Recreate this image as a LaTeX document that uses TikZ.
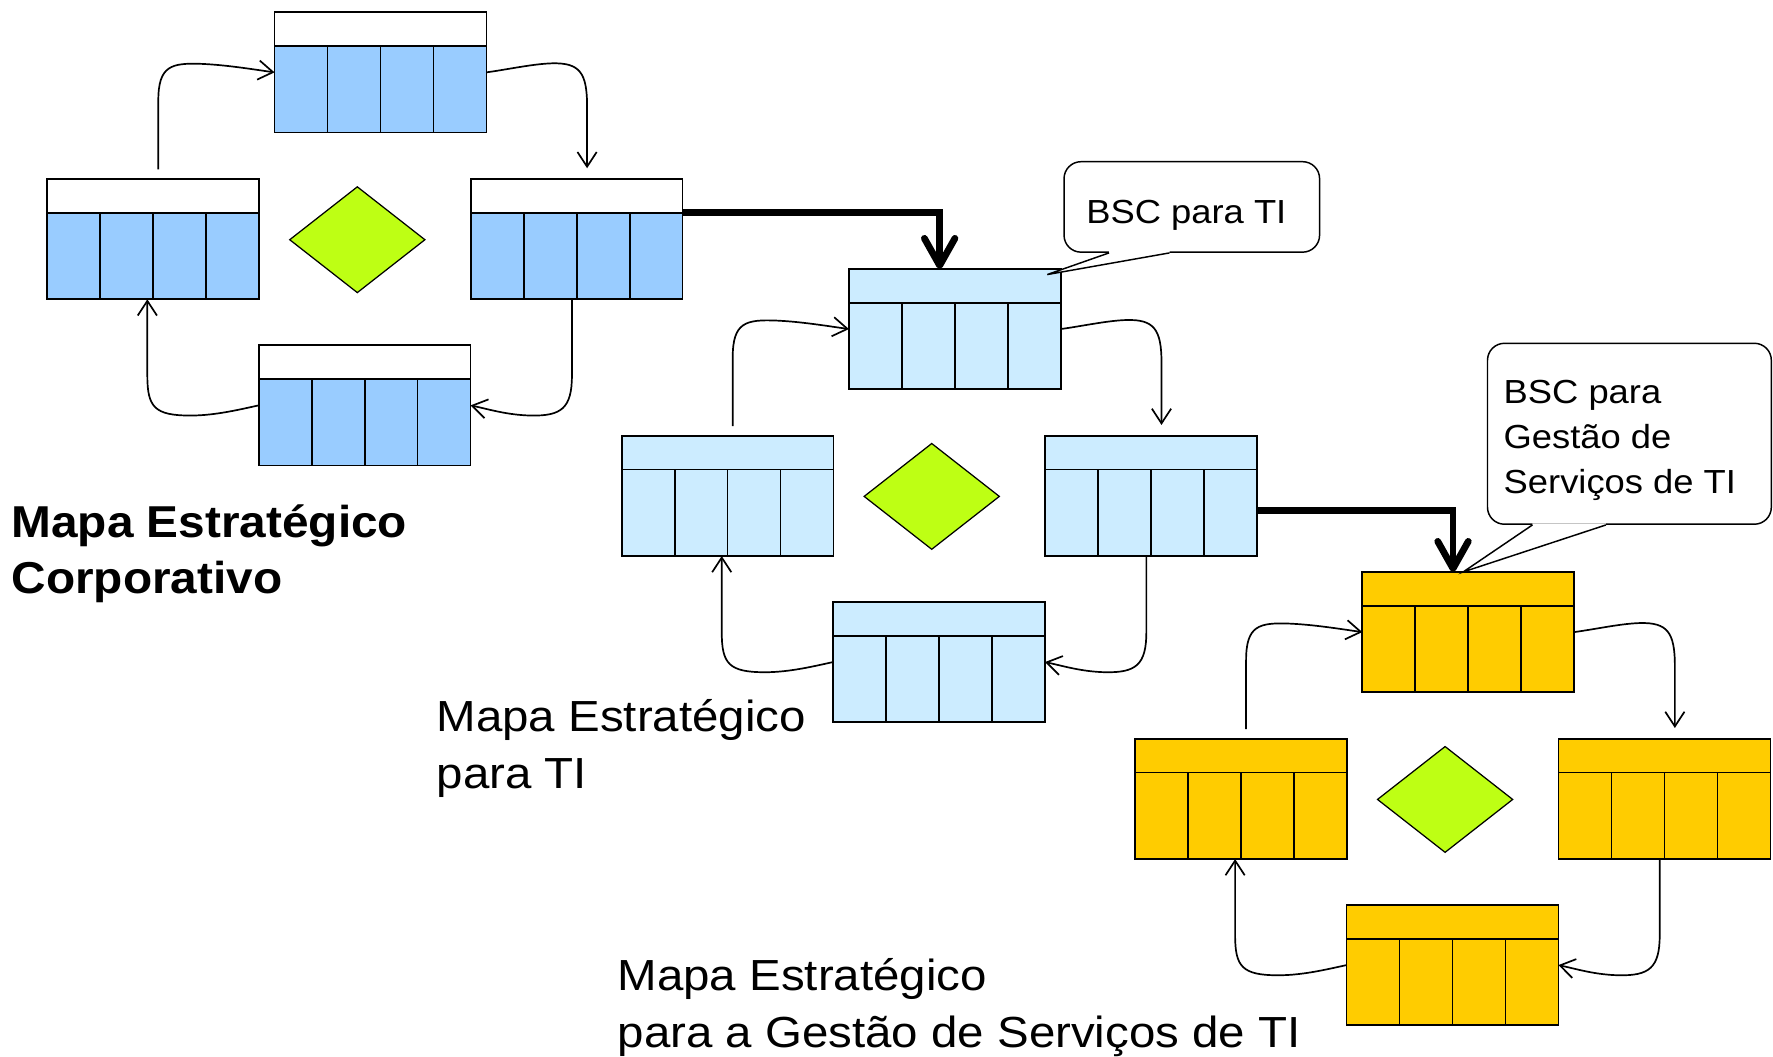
\documentclass[tikz,border=0pt]{standalone}
\usepackage{fontspec}
\setmainfont{Liberation Sans}
\newfontfamily\lblfont[FakeStretch=1.09]{Liberation Sans}
\newfontfamily\lblbold[FakeStretch=1.07]{Liberation Sans Bold}
\usetikzlibrary{arrows.meta,shapes.geometric,calc}

\definecolor{blueA}{HTML}{99CCFF}
\definecolor{blueB}{HTML}{CCECFF}
\definecolor{goldC}{HTML}{FFCC00}
\definecolor{limeD}{RGB}{190,255,20}

\tikzset{
  mbox/.style={rectangle, minimum width=187pt, minimum height=106pt, inner sep=0pt, draw=none},
  boxline/.style={line width=1.5pt, draw=black},
  flow/.style={line width=1.5pt, -{Straight Barb[length=13pt,width=17pt]}},
  bigflow/.style={line width=6pt, -{Straight Barb[length=24pt,width=27pt,round]}},
  gem/.style={diamond, draw=black, fill=limeD, minimum width=120pt, minimum height=94pt, inner sep=0pt, line width=1.1pt},
  callbox/.style={rectangle, draw=black, fill=white, rounded corners=15pt, line width=1.3pt, inner sep=0pt},
  callline/.style={line width=1.3pt},
  txt/.style={inner sep=0pt, anchor=base west},
}

\newcommand\mapbox[4]{%
  \node[mbox, fill=#3] (#1) at (#2) {};
  \fill[#4] (#1.north west) rectangle ([yshift=-30pt]#1.north east);
  \draw[boxline] ([yshift=-30pt]#1.north west) -- ([yshift=-30pt]#1.north east);
  \foreach \fr in {0.25,0.5,0.75}{%
    \draw[boxline] ($(#1.south west)!\fr!(#1.south east)$) -- ($([yshift=-30pt]#1.north west)!\fr!([yshift=-30pt]#1.north east)$);}
  \draw[boxline] (#1.north west) rectangle (#1.south east);
}

\newcommand\mapgroup[4]{%
  \begin{scope}[shift={(#2)}]
    \mapbox{#1T}{0,0}{#3}{#4}
    \mapbox{#1L}{-201,147.5}{#3}{#4}
    \mapbox{#1R}{173.5,147.5}{#3}{#4}
    \mapbox{#1B}{-14,294.5}{#3}{#4}
    \node[gem] (#1D) at (-20.5,148) {};
    \draw[flow] ([xshift=4.5pt,yshift=8.5pt]#1L.north) -- (-196.5,25)
      .. controls (-196.5,-6) and (-185,-8.5) .. (-158,-7.5)
      .. controls (-136,-6.5) and (-115,-3) .. (#1T.west);
    \draw[flow] (#1T.east) .. controls (115,-3) and (135,-7.5) .. (152,-8)
      .. controls (176,-8.5) and (182.7,0) .. (182.7,30)
      -- ([xshift=9.2pt,yshift=9.5pt]#1R.north);
    \draw[flow] ([xshift=-4.2pt]#1R.south) -- (169.3,268)
      .. controls (169.3,297) and (160,304) .. (133,303.5)
      .. controls (112,303) and (96,298) .. (#1B.east);
    \draw[flow] (#1B.west) .. controls (-124,298) and (-146,303.5) .. (-168,303.5)
      .. controls (-200,303.5) and (-206.2,296) .. (-206.2,268)
      -- ([xshift=-5.2pt]#1L.south);
  \end{scope}
}

\newcommand\lines[1]{\begin{tabular}[t]{@{}l@{}}#1\end{tabular}}

\begin{document}
\begin{tikzpicture}[x=1pt,y=-1pt]
\useasboundingbox (0,0) rectangle (1568,934);

\mapgroup{a}{336.5,64}{blueA}{white}
\mapgroup{b}{844.5,291}{blueB}{blueB}
\mapgroup{c}{1298.5,559}{goldC}{goldC}

% callout 1
\node[callbox, minimum width=226pt, minimum height=80pt] (cb1) at (1054,183) {};
\coordinate (tip1) at ([xshift=-12pt,yshift=-5pt]bT.north east);
\coordinate (p1a) at ([xshift=40.5pt]cb1.south west);
\coordinate (p1b) at ([xshift=94pt]cb1.south west);
\fill[white] ([yshift=1.5pt]p1a) -- (p1a) -- (tip1) -- (p1b) -- ([yshift=1.5pt]p1b) -- cycle;
\draw[callline] (p1a) -- (tip1) -- (p1b);
\node[txt, font=\lblfont\fontsize{29.5}{39.5}\selectfont] (cb1t) at (960.5,198) {BSC para TI};

% callout 2
\node[callbox, minimum width=251pt, minimum height=160pt] (cb2) at (1441,383.6) {};
\coordinate (tip2) at ([xshift=-4.5pt]cT.north);
\coordinate (p2a) at ([xshift=40.4pt]cb2.south west);
\coordinate (p2b) at ([xshift=105.4pt]cb2.south west);
\fill[white] ([yshift=1.5pt]p2a) -- (p2a) -- (tip2) -- (p2b) -- ([yshift=1.5pt]p2b) -- cycle;
\draw[callline] (p2a) -- (tip2) -- (p2b);
\node[txt, font=\lblfont\fontsize{29.5}{39.5}\selectfont] (cb2t) at (1329.6,357) {\lines{BSC para\\Gestão de\\Serviços de TI}};

% thick links between maps
\draw[bigflow] ([yshift=-29.5pt]aR.north east) -| ([xshift=-13.5pt]bT.north);
\draw[bigflow] ([yshift=-13pt]bR.east) -| ([xshift=-13.5pt]cT.north);

% labels
\node[txt, font=\lblbold\fontsize{39.5}{50}\selectfont] (lab1) at (10,475) {\lines{Mapa Estratégico\\Corporativo}};
\node[txt, font=\lblfont\fontsize{38.5}{50.5}\selectfont] (lab2) at (386,647) {\lines{Mapa Estratégico\\para TI}};
\node[txt, font=\lblfont\fontsize{38.5}{50.5}\selectfont] (lab3) at (546,876) {\lines{Mapa Estratégico\\para a Gestão de Serviços de TI}};
\end{tikzpicture}
\end{document}
